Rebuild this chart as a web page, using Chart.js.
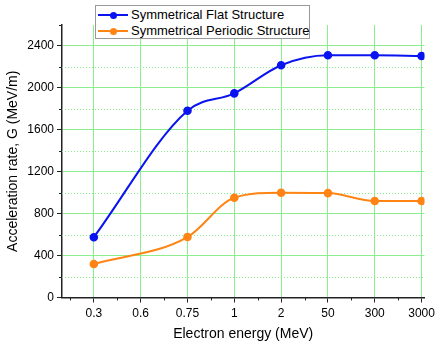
<!DOCTYPE html>
<html><head><meta charset="utf-8">
<script src="https://cdn.jsdelivr.net/npm/chart.js@4/dist/chart.umd.min.js"></script>
<style>
html,body{margin:0;padding:0;background:#fff;}
#wrap{position:relative;width:439px;height:341px;overflow:hidden;}
#legend{position:absolute;left:95px;top:5px;width:215px;height:34px;border:1px solid #999;background:#fff;font:13px "Liberation Sans",Arial,sans-serif;color:#000;box-sizing:border-box;}
.row{position:absolute;left:0;height:16px;line-height:16px;white-space:nowrap;}
.ln{position:absolute;left:2px;top:7px;width:30px;height:2px;}
.dt{position:absolute;left:13.5px;top:4.5px;width:7px;height:7px;border-radius:50%;}
.tx{position:absolute;left:35px;top:0;}
</style></head>
<body><div id="wrap"><canvas id="c" width="439" height="341"></canvas>
<div id="legend"></div></div>
<script>
const categories = ['0.3','0.6','0.75','1','2','50','300','3000'];
const pointIndex = [0, 2, 3, 4, 5, 6, 7];
const flatValues = [575, 1782, 1948, 2216, 2311, 2311, 2304];
const periodicValues = [320, 577, 952, 1000, 996, 921, 921];
const seriesNames = ['Symmetrical Flat Structure', 'Symmetrical Periodic Structure'];
const seriesColors = ['#0a14f0', '#ff8414'];
const yTicks = [0, 400, 800, 1200, 1600, 2000, 2400];

const toPts = v => v.map((y, i) => ({x: pointIndex[i], y}));
const GRID = 'rgb(140,238,140)';

const minorPlugin = {
  id: 'minor',
  beforeDatasetsDraw(chart) {
    const {ctx, chartArea: a, scales: {x, y}} = chart;
    ctx.save();
    ctx.strokeStyle = GRID; ctx.lineWidth = 1; ctx.setLineDash([1, 2]);
    for (let v = 200; v < 2600; v += 400) {
      const py = Math.round(y.getPixelForValue(v)) + 0.5;
      ctx.beginPath(); ctx.moveTo(a.left, py); ctx.lineTo(a.right, py); ctx.stroke();
    }
    ctx.setLineDash([]); ctx.strokeStyle = '#222';
    for (let v = 200; v <= 2600; v += 400) {
      const py = Math.round(y.getPixelForValue(v)) + 0.5;
      ctx.beginPath(); ctx.moveTo(a.left - 3, py); ctx.lineTo(a.left, py); ctx.stroke();
    }
    for (let v = -0.5; v < 7.5; v += 1) {
      if (v < x.min || v > x.max) continue;
      const px = Math.round(x.getPixelForValue(v)) + 0.5;
      ctx.beginPath(); ctx.moveTo(px, a.bottom); ctx.lineTo(px, a.bottom + 3); ctx.stroke();
    }
    ctx.restore();
  }
};

const ds = (name, vals, col) => ({
  label: name, data: toPts(vals), borderColor: col, backgroundColor: col,
  borderWidth: 2, pointRadius: 3.3, pointHoverRadius: 3.3, cubicInterpolationMode: 'monotone', fill: false
});

new Chart(document.getElementById('c'), {
  type: 'line',
  data: {datasets: [ds(seriesNames[0], flatValues, seriesColors[0]), ds(seriesNames[1], periodicValues, seriesColors[1])]},
  options: {
    responsive: false, animation: false, devicePixelRatio: 1,
    layout: {padding: {top: 25, right: 12, left: 0, bottom: -2}},
    plugins: {legend: {display: false}, tooltip: {enabled: false}},
    scales: {
      x: {
        type: 'linear', min: -0.68, max: 7.06,
        afterBuildTicks: s => { s.ticks = categories.map((c, i) => ({value: i})); },
        afterFit: s => { s.height = 45.5; },
        ticks: {callback: v => categories[v] ?? '', color: '#000', font: {family: 'Liberation Sans', size: 12}, padding: 4, autoSkip: false, maxRotation: 0},
        grid: {color: GRID, lineWidth: 1, tickColor: '#222', tickLength: 5, drawTicks: true},
        border: {color: '#222', width: 1.5},
        title: {display: true, text: 'Electron energy (MeV)', color: '#000', font: {family: 'Liberation Sans', size: 14}, padding: {top: 1, bottom: 0}}
      },
      y: {
        min: 0, max: 2600,
        afterBuildTicks: s => { s.ticks = yTicks.map(v => ({value: v})); },
        afterFit: s => { s.width = 62; },
        ticks: {callback: v => String(v), color: '#000', font: {family: 'Liberation Sans', size: 12}, padding: 3},
        grid: {color: GRID, lineWidth: 1, tickColor: '#222', tickLength: 5},
        border: {color: '#222', width: 1.5},
        title: {display: true, text: 'Acceleration rate, G (MeV/m)', color: '#000', font: {family: 'Liberation Sans', size: 14}, padding: {top: 5, bottom: 2}}
      }
    }
  },
  plugins: [minorPlugin]
});

const lg = document.getElementById('legend');
seriesNames.forEach((n, i) => {
  const r = document.createElement('div'); r.className = 'row'; r.style.top = (i * 16 + 1) + 'px'; r.style.width = '100%';
  r.innerHTML = `<div class="ln" style="background:${seriesColors[i]}"></div><div class="dt" style="background:${seriesColors[i]}"></div><span class="tx">${n}</span>`;
  lg.appendChild(r);
});
</script></body></html>
